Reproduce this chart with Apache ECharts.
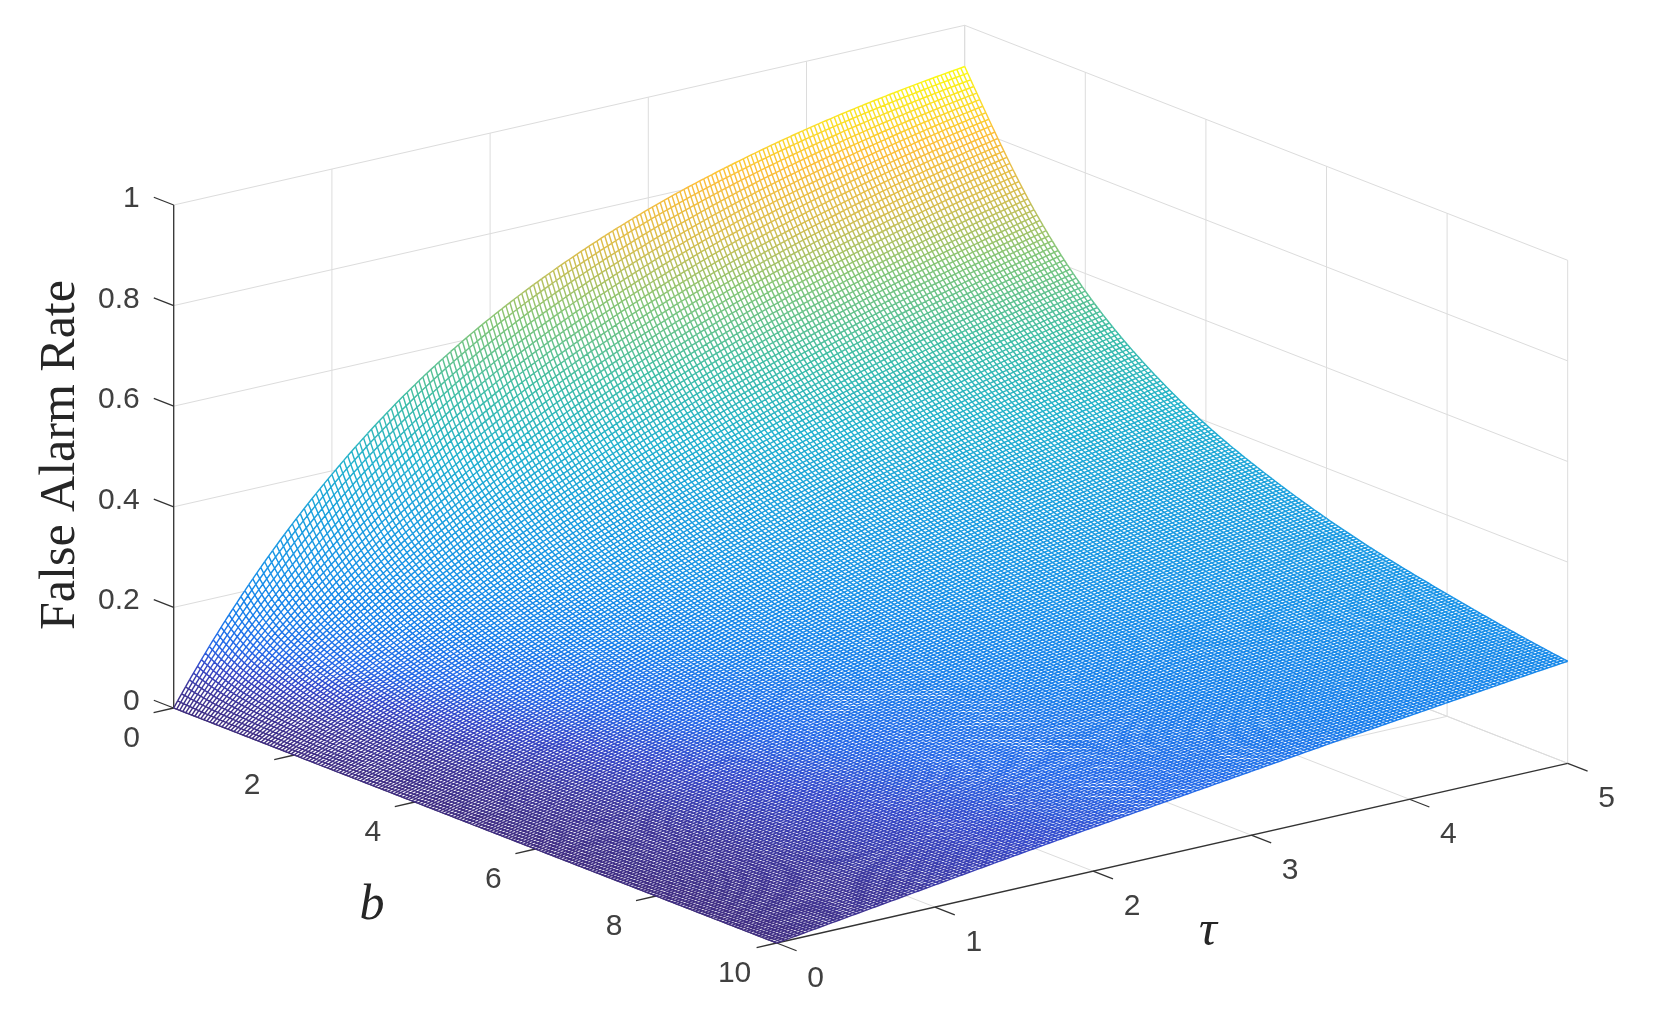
<!DOCTYPE html>
<html><head><meta charset="utf-8">
<style>html,body{margin:0;padding:0;background:#fff}#c{width:1655px;height:1023px}</style>
<script src="https://cdn.jsdelivr.net/npm/echarts@6/dist/echarts.min.js"></script>
</head><body><div id="c"></div>
<script>
// values
const tauNodes=[0,0.5,1,1.5,2,2.5,3,3.5,4,4.5,5];
const bNodes=[0,0.5,1,1.5,2,3,4,5,6,7,8,9,10];
const zB0  =[0,.221,.393,.528,.632,.713,.777,.826,.865,.895,.918];
const zB05 =[0,.154,.283,.393,.487,.565,.632,.689,.736,.777,.811];
const zB1  =[0,.118,.221,.313,.393,.465,.528,.583,.632,.675,.713];
const zB15 =[0,.095,.181,.259,.330,.393,.451,.503,.551,.593,.632];
const zB2  =[0,.080,.154,.221,.283,.341,.393,.442,.487,.528,.565];
const zB3  =[0,.061,.118,.171,.221,.268,.313,.354,.393,.430,.465];
const zB4  =[0,.049,.095,.139,.181,.221,.259,.295,.330,.362,.393];
const zB5  =[0,.041,.080,.118,.154,.188,.221,.253,.283,.313,.341];
const zB6  =[0,.035,.069,.102,.133,.163,.193,.221,.249,.275,.300];
const zB7  =[0,.031,.061,.089,.118,.145,.171,.197,.221,.245,.268];
const zB8  =[0,.027,.054,.080,.105,.130,.154,.177,.199,.221,.243];
const zB9  =[0,.025,.049,.072,.095,.118,.139,.161,.181,.201,.221];
const zB10 =[0,.022,.044,.066,.087,.107,.127,.147,.166,.185,.203];
const zRows=[zB0,zB05,zB1,zB15,zB2,zB3,zB4,zB5,zB6,zB7,zB8,zB9,zB10];
const tauTicks=[0,1,2,3,4,5];
const bTicks=[0,2,4,6,8,10];
const zTicks=[0,0.2,0.4,0.6,0.8,1];
const zTickLabels=['0','0.2','0.4','0.6','0.8','1'];
const zTitle='False Alarm Rate', bTitle='b', tauTitle='τ';

// view of the 3-D box on the page plane
const O=[173.7,708], perTau=[158.2,-35.94], perB=[60.3,23.5], perZ=-503;
const TAU=5,BMAX=10,ZMAX=1;
const proj=(t,b,z)=>[O[0]+perTau[0]*t+perB[0]*b, O[1]+perTau[1]*t+perB[1]*b+perZ*z];

// colour ramp
const ramp=[[0,[64,46,130]],[.04,[62,54,155]],[.08,[55,72,200]],[.12,[38,105,232]],[.18,[25,128,235]],[.25,[25,145,232]],[.35,[28,160,222]],
 [.45,[35,178,205]],[.56,[65,190,165]],[.68,[130,198,120]],[.78,[215,190,80]],[.88,[252,190,60]],[.95,[250,225,40]],[1,[250,250,20]]];
function colorOf(z){const v=Math.min(1,Math.max(0,z/.918));let i=0;while(i<ramp.length-2&&v>ramp[i+1][0])i++;
 const a=ramp[i],c=ramp[i+1],f=(v-a[0])/(c[0]-a[0]);
 return 'rgb('+[0,1,2].map(k=>Math.round(a[1][k]+(c[1][k]-a[1][k])*f)).join(',')+')';}

// mesh of the surface drawn through the read nodes
function w4(nodes,x){let i=0;while(i<nodes.length-2&&x>nodes[i+1])i++;
 let s=Math.max(0,Math.min(nodes.length-4,i-1));const id=[s,s+1,s+2,s+3];
 const w=id.map((p,a)=>{let r=1;id.forEach((q,c)=>{if(c!==a)r*=(x-nodes[q])/(nodes[p]-nodes[q]);});return r;});
 return [id,w];}
function zAt(t,b){const [it,wt]=w4(tauNodes,t),[ib,wb]=w4(bNodes,b);let s=0;
 ib.forEach((r,a)=>it.forEach((c,d)=>{s+=wb[a]*wt[d]*zRows[r][c];}));return Math.max(0,s);}
const MESH=200;
const fine=[];for(let i=0;i<=MESH;i++){fine.push([]);for(let j=0;j<=MESH;j++)fine[i].push(zAt(TAU*i/MESH,BMAX*j/MESH));}

// a bundle of same-coloured mesh segments
echarts.graphic.registerShape('meshBundle',echarts.graphic.extendShape({
 shape:{segs:[]},
 buildPath(ctx,shape){const s=shape.segs;for(let k=0;k<s.length;k+=4){ctx.moveTo(s[k],s[k+1]);ctx.lineTo(s[k+2],s[k+3]);}}
}));

// box lines
const GRID='#dcdcdc',AX='#333333';
const boxLines=[];
const seg=(a,c)=>boxLines.push([a[0],a[1],a[2],c[0],c[1],c[2]]);
zTicks.forEach(z=>{seg([0,0,z],[TAU,0,z]);seg([TAU,0,z],[TAU,BMAX,z]);});
tauTicks.forEach(t=>{seg([t,0,0],[t,0,ZMAX]);if(t>0)seg([t,0,0],[t,BMAX,0]);});
bTicks.forEach(b=>{seg([TAU,b,0],[TAU,b,ZMAX]);if(b<BMAX)seg([0,b,0],[TAU,b,0]);});
const axisLines=[];
const aseg=(a,c)=>axisLines.push([a[0],a[1],a[2],c[0],c[1],c[2]]);
aseg([0,0,0],[0,0,ZMAX]);aseg([0,0,0],[0,BMAX,0]);aseg([0,BMAX,0],[TAU,BMAX,0]);
const TZ=0.33,TB=0.127,TT=0.33;
zTicks.forEach(z=>aseg([0,0,z],[0,-TZ,z]));
bTicks.forEach(b=>aseg([0,b,0],[-TB,b,0]));
tauTicks.forEach(t=>aseg([t,BMAX,0],[t,BMAX+TT,0]));

// labels
const NUM='"Liberation Sans",Arial,sans-serif',SER='"Liberation Serif","Times New Roman",serif';
const labels=[];
zTicks.forEach((z,i)=>labels.push([0,-TZ,z,zTickLabels[i],-14,1.5,'right']));
bTicks.forEach(b=>labels.push([-TB,b,0,String(b),-22,26,'center']));
tauTicks.forEach(t=>labels.push([t,BMAX+TT,0,String(t),19,28,'center']));

const drawSeg=(color,width)=>(params,api)=>{const a=api.coord(proj(api.value(0),api.value(1),api.value(2))),c=api.coord(proj(api.value(3),api.value(4),api.value(5)));
 return {type:'line',shape:{x1:a[0],y1:a[1],x2:c[0],y2:c[1]},style:{stroke:color,lineWidth:width},silent:true};};

const nodeData=[];bNodes.forEach((b,j)=>tauNodes.forEach((t,i)=>nodeData.push([t,b,zRows[j][i]])));

const MESH_W=1.45, LEVELS=160;
function meshItem(params,api){
 // each read node owns the stretch of fine mesh that starts at it
 const t=api.value(0),b=api.value(1);
 const ti=tauNodes.indexOf(t),bi=bNodes.indexOf(b);
 const i0=Math.round(t/TAU*MESH),j0=Math.round(b/BMAX*MESH);
 const i1=ti<tauNodes.length-1?Math.round(tauNodes[ti+1]/TAU*MESH):MESH+1;
 const j1=bi<bNodes.length-1?Math.round(bNodes[bi+1]/BMAX*MESH):MESH+1;
 const bands={};
 const put=(p,q,z)=>{const k=Math.round(z/.918*LEVELS);(bands[k]||(bands[k]=[])).push(p[0],p[1],q[0],q[1]);};
 for(let i=i0;i<i1;i++)for(let j=j0;j<j1;j++){
  const p=api.coord(proj(TAU*i/MESH,BMAX*j/MESH,fine[i][j]));
  if(i<MESH)put(p,api.coord(proj(TAU*(i+1)/MESH,BMAX*j/MESH,fine[i+1][j])),(fine[i][j]+fine[i+1][j])/2);
  if(j<MESH)put(p,api.coord(proj(TAU*i/MESH,BMAX*(j+1)/MESH,fine[i][j+1])),(fine[i][j]+fine[i][j+1])/2);
 }
 const kids=Object.keys(bands).map(k=>({type:'meshBundle',silent:true,shape:{segs:bands[k]},
   style:{fill:null,stroke:colorOf(k/LEVELS*.918),lineWidth:MESH_W}}));
 return {type:'group',children:kids,silent:true};
}
function backingItem(params,api){
 const pts=[];
 for(let i=0;i<=MESH;i++)pts.push(api.coord(proj(TAU*i/MESH,0,fine[i][0])));
 for(let j=0;j<=MESH;j++)pts.push(api.coord(proj(TAU,BMAX*j/MESH,fine[MESH][j])));
 for(let i=MESH;i>=0;i--)pts.push(api.coord(proj(TAU*i/MESH,BMAX,fine[i][MESH])));
 for(let j=MESH;j>=0;j--)pts.push(api.coord(proj(0,BMAX*j/MESH,fine[0][j])));
 return {type:'polygon',shape:{points:pts},style:{fill:'#fff',stroke:null},silent:true};
}
function labelItem(params,api){const it=labels[params.dataIndex];const a=api.coord(proj(it[0],it[1],it[2]));
 return {type:'text',silent:true,style:{x:a[0]+it[4],y:a[1]+it[5],text:it[3],fill:'#404040',font:'30px '+NUM,textAlign:it[6],textVerticalAlign:'middle'}};}
const chart=echarts.init(document.getElementById('c'),null,{renderer:'canvas'});
const custom=(name,data,fn,z)=>({name,type:'custom',data,renderItem:fn,z,silent:true,animation:false,clip:false,progressive:0,coordinateSystem:'cartesian2d'});
chart.setOption({
 animation:false,backgroundColor:'#fff',tooltip:{show:false},
 grid:{left:0,right:0,top:0,bottom:0,containLabel:false},
 xAxis:{type:'value',min:0,max:1655,show:false},
 yAxis:{type:'value',min:0,max:1023,inverse:true,show:false},
 series:[
  custom('box',boxLines,drawSeg(GRID,1),1),
  custom('axes',axisLines,drawSeg(AX,1.3),2),
  custom('backing',[[0,0,0]],backingItem,3),
  custom('surface',nodeData,meshItem,4),
  custom('ticks',labels.map(r=>r.slice(0,3)),labelItem,5)
 ],
 graphic:[
  {type:'text',silent:true,x:61,y:455,rotation:Math.PI/2,style:{text:zTitle,font:'50px '+SER,fill:'#262626',textAlign:'center',textVerticalAlign:'middle'}},
  {type:'text',silent:true,x:372,y:906,style:{text:bTitle,font:'italic 50px '+SER,fill:'#262626',textAlign:'center',textVerticalAlign:'middle'}},
  {type:'text',silent:true,x:1208,y:932,style:{text:tauTitle,font:'italic 50px '+SER,fill:'#262626',textAlign:'center',textVerticalAlign:'middle'}}
 ]
});
</script></body></html>
